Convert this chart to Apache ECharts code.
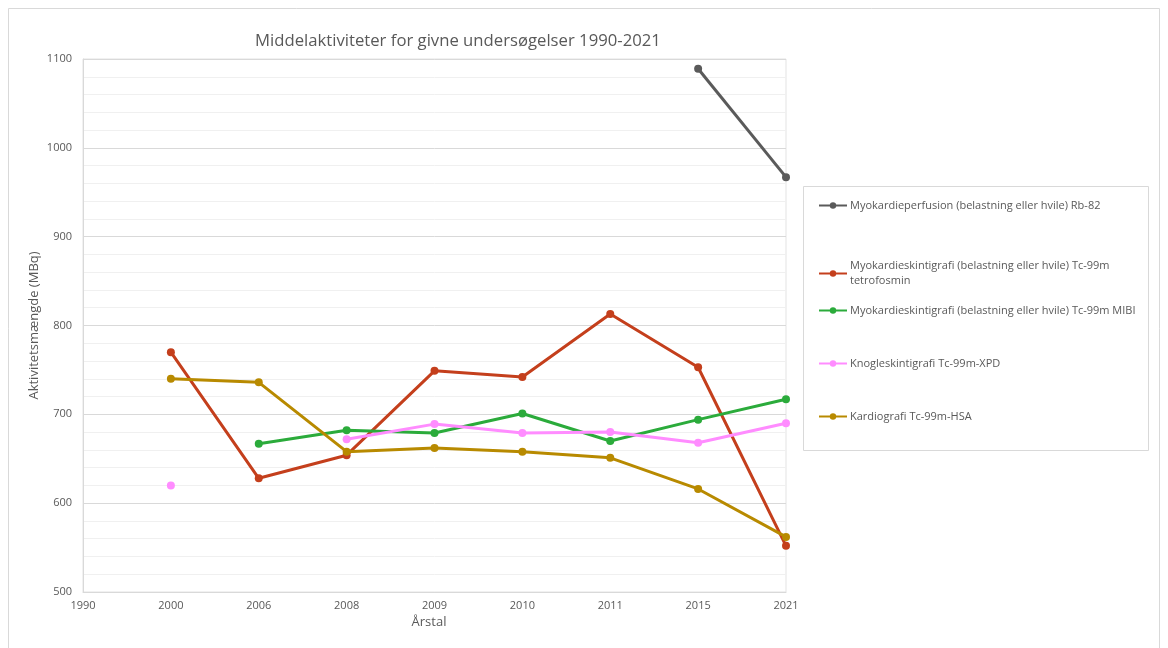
<!DOCTYPE html>
<html>
<head>
<meta charset="utf-8">
<script src="https://cdn.jsdelivr.net/npm/echarts@6/dist/echarts.min.js"></script>
<style>html,body{margin:0;padding:0;background:#fff}#c{width:1168px;height:648px}</style>
</head>
<body>
<div id="c"></div>
<script>
const years = ['1990','2000','2006','2008','2009','2010','2011','2015','2021'];
const names = [
  'Myokardieperfusion (belastning eller hvile) Rb-82',
  'Myokardieskintigrafi (belastning eller hvile) Tc-99m\ntetrofosmin',
  'Myokardieskintigrafi (belastning eller hvile) Tc-99m MIBI',
  'Knogleskintigrafi Tc-99m-XPD',
  'Kardiografi Tc-99m-HSA'
];
const rb82      = [null, null, null, null, null, null, null, 1089, 967];
const tetrofos  = [null, 770, 628, 654, 749, 742, 813, 753, 552];
const mibi      = [null, null, 667, 682, 679, 701, 670, 694, 717];
const xpd       = [null, 620, null, 672, 689, 679, 680, 668, 690];
const hsa       = [null, 740, 736, 658, 662, 658, 651, 616, 562];
const colors = ['#5a5a5a', '#c43f1c', '#2bab3b', '#ff8cff', '#b88a00'];
const seriesData = [rb82, tetrofos, mibi, xpd, hsa];
const legendTops = [198, 251, 303, 356, 409];

const font = '"Open Sans", "Noto Sans", sans-serif';
const chart = echarts.init(document.getElementById('c'));
chart.setOption({
  animation: false,
  backgroundColor: '#fff',
  textStyle: {fontFamily: font},
  title: {
    text: 'Middelaktiviteter for givne undersøgelser 1990-2021',
    left: 250, top: 28,
    textStyle: {fontSize: 16.7, fontWeight: 'normal', color: '#595959', fontFamily: font}
  },
  graphic: [
    {type: 'rect', shape: {x: 8.5, y: 8.5, width: 1151, height: 660},
     style: {fill: 'none', stroke: '#d9d9d9', lineWidth: 1}, silent: true},
    {type: 'rect', shape: {x: 803.5, y: 186.5, width: 345, height: 264},
     style: {fill: 'none', stroke: '#d9d9d9', lineWidth: 1}, silent: true}
  ],
  legend: names.map((n, i) => ({
    data: [n], left: 818, top: legendTops[i], orient: 'vertical', padding: 0,
    itemWidth: 28, itemHeight: 8, itemGap: 0,
    textStyle: {fontSize: 11, color: '#595959', fontFamily: font, lineHeight: 15,
      padding: i === 1 ? [15, 0, 0, -2] : [0, 0, 0, -2]}
  })),
  grid: {left: 83, right: 382, top: 59, bottom: 56, show: true, borderColor: '#e3e3e3', borderWidth: 1},
  xAxis: {
    type: 'category', data: years, boundaryGap: false,
    name: 'Årstal', nameLocation: 'middle', nameGap: 24,
    nameTextStyle: {fontSize: 13, color: '#595959', padding: [0, 11, 0, 0]},
    axisLine: {lineStyle: {color: '#d9d9d9'}},
    axisTick: {show: false},
    axisLabel: {fontSize: 11, color: '#595959', margin: 8},
    splitLine: {show: false}
  },
  yAxis: {
    type: 'value', min: 500, max: 1100, interval: 100,
    name: 'Aktivitetsmængde (MBq)', nameLocation: 'middle', nameGap: 42,
    nameMoveOverlap: false,
    nameTextStyle: {fontSize: 13, color: '#595959'},
    axisLine: {show: true, lineStyle: {color: '#d9d9d9'}},
    axisTick: {show: false},
    axisLabel: {fontSize: 11, color: '#595959', margin: 11, formatter: v => String(v)},
    splitLine: {lineStyle: {color: '#d9d9d9'}},
    minorTick: {show: false, splitNumber: 5},
    minorSplitLine: {show: true, lineStyle: {color: '#f0f0f0'}}
  },
  series: names.map((n, i) => ({
    name: n, type: 'line', data: seriesData[i],
    color: colors[i], symbol: 'circle', symbolSize: 8, showSymbol: true,
    connectNulls: false,
    lineStyle: {width: 3, color: colors[i]},
    itemStyle: {color: colors[i]}
  }))
});
</script>
</body>
</html>
